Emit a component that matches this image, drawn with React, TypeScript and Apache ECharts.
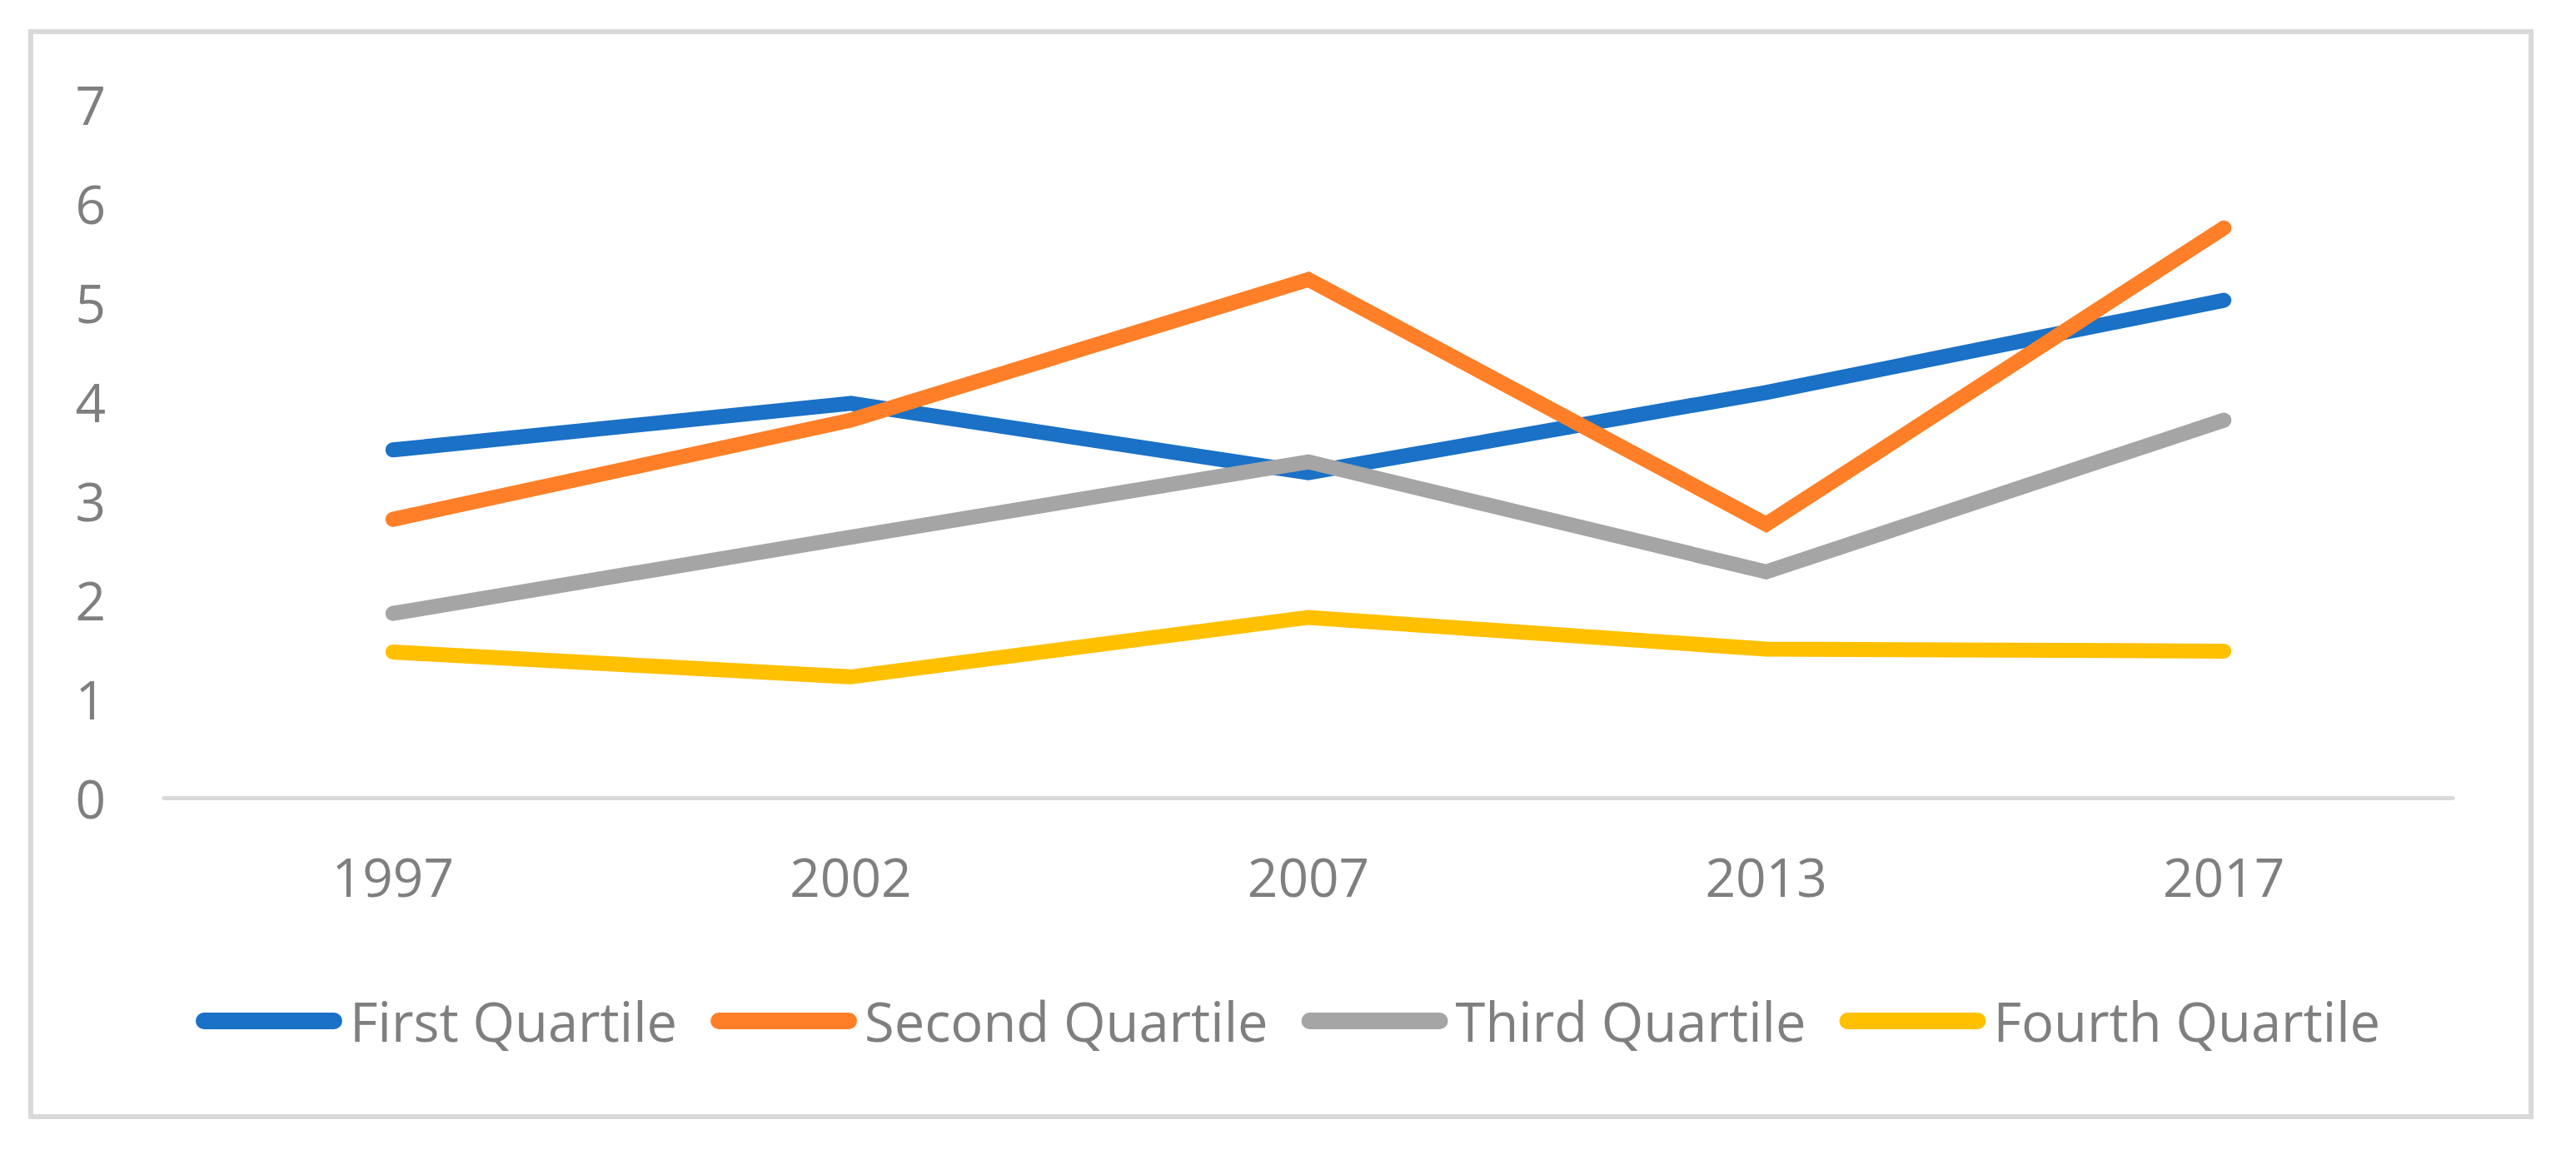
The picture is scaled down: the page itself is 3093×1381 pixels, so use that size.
import React, { useEffect, useRef } from "react";
import * as echarts from "echarts";

const categories = ["1997", "2002", "2007", "2013", "2017"];
const seriesNames = ["First Quartile", "Second Quartile", "Third Quartile", "Fourth Quartile"];
const firstQuartile = [3.51, 3.98, 3.28, 4.09, 5.02];
const secondQuartile = [2.81, 3.81, 5.23, 2.76, 5.75];
const thirdQuartile = [1.86, 2.63, 3.39, 2.28, 3.81];
const fourthQuartile = [1.47, 1.22, 1.82, 1.5, 1.48];
const seriesColors = ["#1A71C6", "#FE7F27", "#A5A5A5", "#FFC000"];
const yTicks = { min: 0, max: 7, interval: 1 };

const FONT = "'Open Sans', 'Noto Sans', sans-serif";
const TEXT_COLOR = "#7F7F7F";
const CAPSULE = "path://M10,0 L168,0 A10,10 0 0 1 168,20 L10,20 A10,10 0 0 1 10,0 Z";

export default function App() {
  const ref = useRef<HTMLDivElement>(null);
  useEffect(() => {
    if (!ref.current) return;
    const chart = echarts.init(ref.current, null, { renderer: "svg" });
    const allData = [firstQuartile, secondQuartile, thirdQuartile, fourthQuartile];
    chart.setOption({
      animation: false,
      backgroundColor: "#ffffff",
      graphic: [
        {
          type: "rect",
          shape: { x: 37, y: 38, width: 3002, height: 1303 },
          style: { fill: "none", stroke: "#D9D9D9", lineWidth: 6 },
          silent: true,
        },
      ],
      grid: { left: 197, right: 148, top: 125, bottom: 423, containLabel: false },
      xAxis: {
        type: "category",
        data: categories,
        boundaryGap: true,
        axisLine: { show: true, lineStyle: { color: "#D9D9D9", width: 5 } },
        axisTick: { show: false },
        axisLabel: { color: TEXT_COLOR, fontSize: 64, fontFamily: FONT, margin: 62 },
        splitLine: { show: false },
      },
      yAxis: {
        type: "value",
        min: yTicks.min,
        max: yTicks.max,
        interval: yTicks.interval,
        axisLine: { show: false },
        axisTick: { show: false },
        splitLine: { show: false },
        axisLabel: { color: TEXT_COLOR, fontSize: 64, fontFamily: FONT, margin: 70 },
      },
      legend: {
        show: true,
        left: "center",
        top: 1183,
        icon: CAPSULE,
        itemWidth: 176,
        itemHeight: 20,
        itemGap: 40,
        textStyle: {
          color: TEXT_COLOR,
          fontSize: 65,
          fontFamily: FONT,
          lineHeight: 76,
          padding: [0, 0, 0, 4],
        },
        data: seriesNames,
      },
      series: seriesNames.map((name, i) => ({
        name,
        type: "line",
        data: allData[i],
        symbol: "none",
        color: seriesColors[i],
        lineStyle: { width: 18, color: seriesColors[i], cap: "round", join: "miter" },
        itemStyle: { color: seriesColors[i] },
      })),
    });
    return () => chart.dispose();
  }, []);
  return (
    <div
      ref={ref}
      style={{ position: "absolute", left: 0, top: 0, width: 3093, height: 1381 }}
    />
  );
}
